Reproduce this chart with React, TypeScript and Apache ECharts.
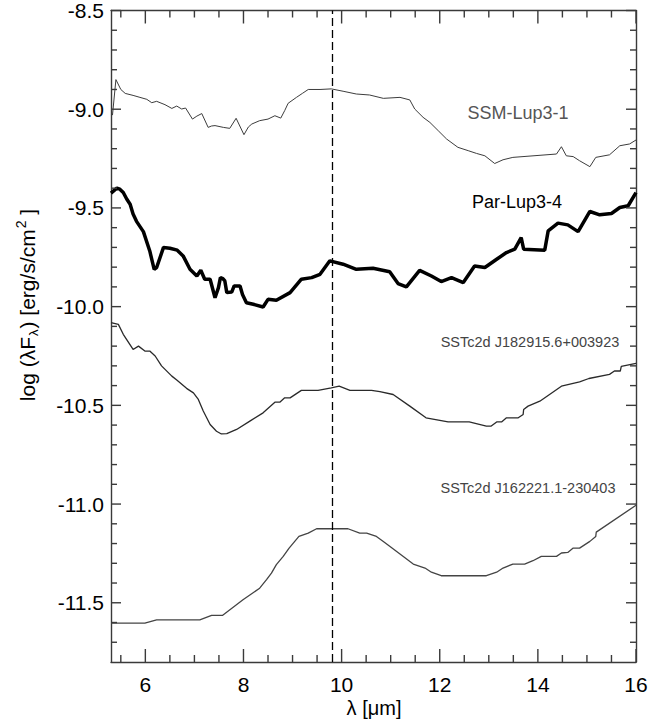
import React, { useEffect, useRef } from "react";
import * as echarts from "echarts";

const xMajor = [6, 8, 10, 12, 14, 16];
const xMinor = [5.5, 6.5, 7, 7.5, 8.5, 9, 9.5, 10.5, 11, 11.5, 12.5, 13, 13.5, 14.5, 15, 15.5];
const yMajor = [-11.5, -11.0, -10.5, -10.0, -9.5, -9.0, -8.5];
const yMinor = [-11.7, -11.6, -11.4, -11.3, -11.2, -11.1, -10.9, -10.8, -10.7, -10.6, -10.4, -10.3, -10.2, -10.1, -9.9, -9.8, -9.7, -9.6, -9.4, -9.3, -9.2, -9.1, -8.9, -8.8, -8.7, -8.6];
const dashedX = 9.8;

const ssmLup31 = [
  [5.33, -9.03], [5.4, -8.85], [5.5, -8.9], [5.59, -8.92], [5.75, -8.93], [5.89, -8.94], [6.03, -8.95], [6.13, -8.967], [6.23, -8.96], [6.4, -8.977], [6.54, -8.996], [6.64, -8.984], [6.74, -8.999], [6.82, -8.994], [6.96, -9.05], [7.05, -9.035], [7.15, -9.022], [7.28, -9.092], [7.35, -9.085], [7.42, -9.083], [7.59, -9.092], [7.72, -9.097], [7.85, -9.046], [8.01, -9.129], [8.1, -9.09], [8.17, -9.075], [8.33, -9.058], [8.5, -9.05], [8.64, -9.033], [8.76, -9.045], [8.84, -9.007], [8.91, -8.97], [9.08, -8.94], [9.2, -8.92], [9.32, -8.9], [9.56, -8.9], [9.79, -8.897], [10.03, -8.909], [10.3, -8.923], [10.57, -8.928], [10.85, -8.945], [11.19, -8.94], [11.39, -8.953], [11.49, -8.999], [11.66, -9.041], [11.8, -9.067], [11.97, -9.109], [12.14, -9.151], [12.37, -9.193], [12.58, -9.21], [12.75, -9.224], [12.92, -9.236], [13.12, -9.275], [13.29, -9.256], [13.49, -9.244], [14.38, -9.227], [14.48, -9.19], [14.58, -9.236], [14.72, -9.24], [14.85, -9.261], [15.06, -9.291], [15.18, -9.244], [15.46, -9.231], [15.67, -9.185], [15.87, -9.176], [16.0, -9.156],
];

const parLup34 = [
  [5.3, -9.425], [5.42, -9.4], [5.48, -9.405], [5.55, -9.422], [5.62, -9.455], [5.69, -9.481], [5.75, -9.531], [5.82, -9.568], [5.96, -9.62], [6.09, -9.718], [6.18, -9.811], [6.23, -9.802], [6.37, -9.7], [6.5, -9.704], [6.65, -9.714], [6.77, -9.743], [6.91, -9.811], [7.05, -9.845], [7.13, -9.816], [7.21, -9.861], [7.32, -9.861], [7.42, -9.955], [7.49, -9.904], [7.53, -9.853], [7.58, -9.858], [7.62, -9.87], [7.66, -9.929], [7.76, -9.926], [7.81, -9.895], [7.93, -9.895], [7.98, -9.938], [8.06, -9.98], [8.2, -9.988], [8.4, -10.002], [8.5, -9.963], [8.67, -9.968], [8.95, -9.929], [9.18, -9.861], [9.39, -9.853], [9.56, -9.836], [9.76, -9.768], [10.03, -9.785], [10.3, -9.811], [10.64, -9.806], [10.98, -9.823], [11.15, -9.883], [11.32, -9.9], [11.59, -9.816], [11.83, -9.845], [12.03, -9.873], [12.24, -9.853], [12.48, -9.878], [12.71, -9.794], [12.92, -9.802], [13.16, -9.76], [13.36, -9.726], [13.53, -9.709], [13.66, -9.65], [13.71, -9.709], [14.14, -9.714], [14.21, -9.616], [14.41, -9.577], [14.61, -9.586], [14.82, -9.62], [15.06, -9.518], [15.26, -9.535], [15.5, -9.528], [15.67, -9.498], [15.84, -9.489], [16.0, -9.422],
];

const sstJ182915 = [
  [5.3, -10.081], [5.45, -10.09], [5.55, -10.14], [5.75, -10.217], [5.86, -10.2], [5.99, -10.225], [6.09, -10.225], [6.2, -10.25], [6.33, -10.3], [6.54, -10.352], [6.64, -10.372], [6.84, -10.414], [6.98, -10.437], [7.08, -10.47], [7.18, -10.529], [7.32, -10.597], [7.45, -10.631], [7.55, -10.645], [7.66, -10.643], [7.86, -10.622], [8.13, -10.58], [8.4, -10.538], [8.64, -10.484], [8.74, -10.484], [8.84, -10.462], [8.95, -10.462], [9.18, -10.424], [9.52, -10.424], [9.79, -10.411], [9.95, -10.403], [10.17, -10.424], [10.61, -10.424], [10.78, -10.431], [11.05, -10.445], [11.39, -10.504], [11.72, -10.563], [12.17, -10.584], [12.6, -10.584], [12.95, -10.605], [13.05, -10.605], [13.16, -10.584], [13.26, -10.584], [13.36, -10.563], [13.6, -10.563], [13.7, -10.546], [13.71, -10.521], [13.8, -10.504], [14.04, -10.479], [14.48, -10.403], [14.85, -10.381], [15.04, -10.364], [15.46, -10.343], [15.56, -10.326], [15.68, -10.326], [15.7, -10.303], [16.0, -10.287],
];

const sstJ162221 = [
  [5.3, -11.603], [5.99, -11.603], [6.23, -11.587], [7.11, -11.587], [7.35, -11.564], [7.57, -11.564], [7.99, -11.485], [8.33, -11.426], [8.47, -11.383], [8.57, -11.35], [8.67, -11.307], [8.81, -11.265], [8.93, -11.223], [9.13, -11.164], [9.32, -11.147], [9.49, -11.125], [10.13, -11.125], [10.37, -11.147], [10.51, -11.147], [10.71, -11.164], [10.85, -11.19], [10.98, -11.214], [11.46, -11.304], [11.7, -11.324], [11.83, -11.345], [12.03, -11.363], [12.95, -11.363], [13.16, -11.345], [13.29, -11.324], [13.49, -11.304], [13.73, -11.304], [13.9, -11.287], [14.07, -11.265], [14.38, -11.265], [14.48, -11.248], [14.61, -11.245], [14.72, -11.223], [14.85, -11.223], [15.06, -11.189], [15.18, -11.164], [15.19, -11.142], [16.0, -11.006],
];

const seriesNames = ["SSM-Lup3-1", "Par-Lup3-4", "SSTc2d J182915.6+003923", "SSTc2d J162221.1-230403"];

const FONT = "'Liberation Sans', Arial, Helvetica, sans-serif";
const AX = "#3a3a3a";
const XMIN = 5.3, XMAX = 16, YMIN = -11.8, YMAX = -8.5;

export default function App() {
  const ref = useRef<HTMLDivElement>(null);
  useEffect(() => {
    if (!ref.current) return;
    const chart = echarts.init(ref.current, null, { renderer: "svg" });
    const tickStyle = { stroke: AX, lineWidth: 1.4 };

    const xTickSeries = (vals: number[], len: number) => ({
      type: "custom", coordinateSystem: "cartesian2d", xAxisIndex: 0, yAxisIndex: 0,
      silent: true, clip: false, z: 5,
      data: vals.map((v) => [v, YMIN]),
      renderItem: (params: any, api: any) => {
        const v = api.value(0);
        const b = api.coord([v, YMIN]);
        const t = api.coord([v, YMAX]);
        return {
          type: "group",
          children: [
            { type: "line", shape: { x1: b[0], y1: b[1], x2: b[0], y2: b[1] - len }, style: tickStyle },
            { type: "line", shape: { x1: t[0], y1: t[1], x2: t[0], y2: t[1] + len }, style: tickStyle },
          ],
        };
      },
    });
    const yTickSeries = (vals: number[], len: number) => ({
      type: "custom", coordinateSystem: "cartesian2d", xAxisIndex: 0, yAxisIndex: 0,
      silent: true, clip: false, z: 5,
      data: vals.map((v) => [XMIN, v]),
      renderItem: (params: any, api: any) => {
        const v = api.value(1);
        const l = api.coord([XMIN, v]);
        const r = api.coord([XMAX, v]);
        return {
          type: "group",
          children: [
            { type: "line", shape: { x1: l[0], y1: l[1], x2: l[0] + len, y2: l[1] }, style: tickStyle },
            { type: "line", shape: { x1: r[0], y1: r[1], x2: r[0] - len, y2: r[1] }, style: tickStyle },
          ],
        };
      },
    });

    const mkX = (pos: string, labels: boolean) => ({
      type: "value", position: pos, min: XMIN, max: XMAX,
      axisLine: { show: true, lineStyle: { color: AX, width: 1.4 } },
      axisTick: { show: false },
      axisLabel: labels
        ? { show: true, customValues: xMajor, formatter: (v: number) => String(v), fontSize: 21, color: "#000", fontFamily: FONT, margin: 12 }
        : { show: false },
      splitLine: { show: false },
    });
    const mkY = (pos: string, labels: boolean) => ({
      type: "value", position: pos, min: YMIN, max: YMAX,
      axisLine: { show: true, lineStyle: { color: AX, width: 1.4 } },
      axisTick: { show: false },
      axisLabel: labels
        ? { show: true, customValues: yMajor, formatter: (v: number) => v.toFixed(1), fontSize: 21, color: "#000", fontFamily: FONT, margin: 7 }
        : { show: false },
      splitLine: { show: false },
    });
    const lineSeries = (name: string, data: number[][], color: string, width: number, extra: any = {}) => ({
      type: "line", name, data, xAxisIndex: 0, yAxisIndex: 0, showSymbol: false, symbol: "none",
      lineStyle: { color, width }, z: 3, ...extra,
    });
    chart.setOption({
      animation: false,
      backgroundColor: "#fff",
      grid: { left: 111, right: 33, top: 10, bottom: 58 },
      xAxis: [mkX("bottom", true), mkX("top", false)],
      yAxis: [mkY("left", true), mkY("right", false)],
      series: [
        lineSeries(seriesNames[0], ssmLup31, "#3c3c3c", 1),
        lineSeries(seriesNames[1], parLup34, "#000", 3.5),
        lineSeries(seriesNames[2], sstJ182915, "#2a2a2a", 1.3),
        lineSeries(seriesNames[3], sstJ162221, "#444", 1.3, {
          markLine: {
            silent: true, symbol: "none", label: { show: false },
            lineStyle: { color: "#000", width: 1.3, type: [8, 4] },
            data: [{ xAxis: dashedX }],
          },
        }),
        xTickSeries(xMajor, 13),
        xTickSeries(xMinor, 7),
        yTickSeries(yMajor, 10),
        yTickSeries(yMinor, 6),
      ],
      graphic: [
        { type: "text", x: 518, y: 113, style: { text: seriesNames[0], fontSize: 18, fontFamily: FONT, fill: "#555", align: "center", verticalAlign: "middle" } },
        { type: "text", x: 517, y: 202, style: { text: seriesNames[1], fontSize: 18, fontFamily: FONT, fill: "#000", align: "center", verticalAlign: "middle" } },
        { type: "text", x: 530, y: 342, style: { text: seriesNames[2], fontSize: 14.5, fontFamily: FONT, fill: "#444", align: "center", verticalAlign: "middle" } },
        { type: "text", x: 528, y: 488, style: { text: seriesNames[3], fontSize: 14.5, fontFamily: FONT, fill: "#444", align: "center", verticalAlign: "middle" } },
        { type: "text", x: 374, y: 708, style: { text: "λ [μm]", fontSize: 20, fontFamily: FONT, fill: "#000", align: "center", verticalAlign: "middle" } },
        {
          type: "text", x: 27, y: 305, rotation: Math.PI / 2,
          style: {
            text: "{a|log (λF}{s|λ}{a|) [erg/s/cm}{p|2}{a| ]}",
            fontFamily: FONT, fill: "#000", align: "center", verticalAlign: "middle",
            rich: {
              a: { fontSize: 21, fontFamily: FONT, fill: "#000", lineHeight: 30, verticalAlign: "middle" },
              s: { fontSize: 13, fontFamily: FONT, fill: "#000", lineHeight: 30, verticalAlign: "bottom", padding: [0, 1, 2, 1] },
              p: { fontSize: 14, fontFamily: FONT, fill: "#000", lineHeight: 30, verticalAlign: "top", padding: [2, 0, 0, 1] },
            },
          },
        },
      ],
    });
    return () => chart.dispose();
  }, []);
  return <div ref={ref} style={{ position: "absolute", left: 0, top: 0, width: 669, height: 720 }} />;
}
